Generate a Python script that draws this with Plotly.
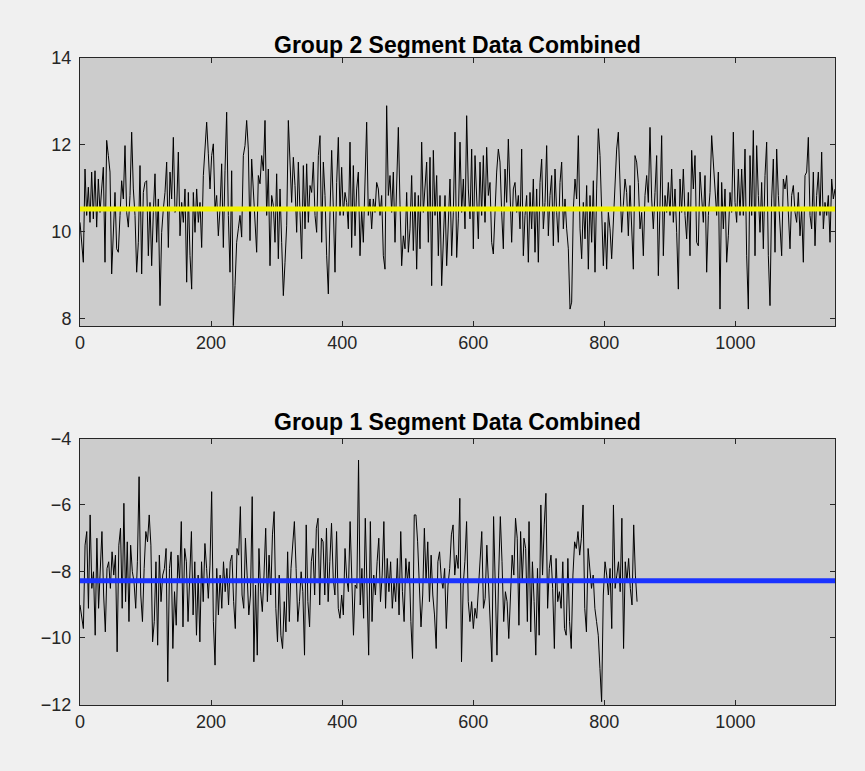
import numpy as np
import plotly.graph_objects as go

# Combined segment samples, group 2 (upper panel) and group 1 (lower panel)
group2_values = [
    10.21, 9.75, 9.29, 11.44, 10.37, 11.02, 10.21, 11.37, 10.29, 11.4, 10.1, 11.21, 10.44, 10.98, 11.48, 9.29,
    12.1, 11.75, 11.37, 9.02, 9.9, 10.9, 9.6, 9.52, 10.37, 11.17, 10.75, 11.98, 10.44, 10.1, 10.83, 12.29,
    10.98, 10.37, 9.06, 9.75, 11.52, 9.02, 10.9, 11.13, 11.17, 9.44, 10.67, 9.21, 10.44, 11.33, 9.75, 10.75,
    8.29, 9.98, 10.52, 10.9, 11.6, 9.63, 11.37, 10.75, 12.17, 10.44, 10.52, 11.83, 9.9, 10.67, 10.21, 10.98,
    8.83, 10.9, 9.44,
    8.67, 10.9, 9.98, 10.98, 10.21, 10.67, 9.63, 11.29, 12.06, 12.52, 11.79, 10.98, 11.75, 12.02, 10.52, 10.83,
    9.9, 10.52, 11.56, 9.63, 11.4, 12.75, 10.37, 9.06, 11.4, 7.83, 8.75, 9.75, 10.06, 10.37, 9.87, 11.75,
    11.98, 12.56, 11.9, 9.79, 11.67, 10.98, 10.06, 9.52, 11.29, 11.1, 11.75, 11.4, 12.56, 10.37, 11.44, 9.21,
    10.83, 10.6, 9.75, 11.33, 9.37, 10.98, 9.75, 8.52, 9.29, 10.13, 12.56, 11.75, 10.67, 11.71, 11.06, 9.98,
    11.6, 10.44,
    9.37, 11.52, 10.06, 11.56, 10.21, 11.06, 10.9, 11.6, 10.37, 9.98, 11.75, 12.21, 9.75, 11.6, 10.83, 9.44,
    8.56, 10.44, 11.87, 10.52, 9.06, 11.13, 12.17, 10.37, 11.48, 10.37, 10.9, 10.67, 10.06, 12.06, 9.63, 11.52,
    9.9, 10.98, 11.37, 9.44, 10.52, 9.75, 11.06, 12.52, 10.37, 10.75, 10.06, 10.75, 10.44, 11.13, 10.98, 10.37,
    10.83, 9.44, 9.13, 12.9, 10.83, 11.29, 10.44, 11.37, 9.75, 11.06, 12.4, 10.63, 9.21, 9.9, 9.6, 10.9,
    9.52, 10.06,
    11.29, 9.56, 10.9, 9.13, 10.83, 9.6, 12.06, 10.44, 11.13, 11.6, 9.75, 11.71, 8.75, 11.87, 10.37, 11.29,
    9.44, 10.83, 8.75, 10.06, 10.83, 9.21, 10.13, 11.21, 9.44, 10.44, 12.29, 9.4, 10.29, 12.06, 10.44, 11.21,
    10.06, 12.67, 10.98, 10.29, 11.9, 9.6, 11.75, 10.6, 9.83, 11.6, 10.37, 11.75, 10.21, 11.94, 10.83, 11.13,
    9.75, 9.48, 10.6, 11.37, 11.9, 11.6, 10.44, 9.6, 11.44, 10.67, 12.13, 10.75, 9.75, 10.98, 11.13, 10.44,
    10.83, 10.06,
    11.9, 9.44, 10.37, 10.83, 9.29, 10.9, 10.06, 11.21, 9.52, 10.98, 9.29, 11.13, 11.67, 10.06, 10.67, 11.98,
    9.9, 10.83, 11.29, 9.67, 11.44, 10.44, 9.75, 11.13, 11.6, 10.06, 10.75, 10.06, 9.6, 8.21, 8.37, 10.52,
    11.21, 10.75, 12.21, 10.06, 9.37, 10.67, 9.83, 11.06, 9.13, 10.83, 9.75, 11.17, 9.06, 10.98, 12.37, 11.75,
    10.37, 9.21, 10.21, 9.13, 10.44, 10.06, 9.37, 10.21, 10.83, 11.9, 12.29, 10.98, 9.98, 10.6, 11.21, 10.9,
    9.9, 11.06,
    9.83, 9.13, 11.75, 11.6, 11.13, 10.06, 10.44, 9.44, 10.83, 11.29, 10.67, 12.4, 10.75, 10.06, 10.9, 11.75,
    8.98, 10.52, 12.21, 9.44, 10.83, 10.44, 11.13, 10.37, 11.44, 10.21, 10.98, 9.98, 8.67, 11.21, 10.44, 11.44,
    10.37, 9.83, 10.9, 9.44, 11.87, 10.98, 11.75, 9.75, 9.67, 11.37, 10.67, 10.21, 11.29, 9.06, 10.37, 10.9,
    12.21, 11.6, 10.75, 10.37, 11.37, 8.21, 11.13, 10.06, 10.98, 9.29, 9.9, 10.9, 10.44, 12.29, 10.67, 10.21,
    11.44, 10.37,
    11.44, 10.37, 11.9, 9.44, 8.21, 11.75, 10.37, 12.33, 9.44, 11.98, 10.83, 9.98, 11.13, 9.6, 11.29, 12.06,
    9.44, 8.29, 10.75, 11.67, 9.52, 11.9, 10.83, 10.06, 9.44, 11.21, 10.98, 11.29, 10.37, 9.6, 10.83, 11.06,
    10.44, 10.21, 10.9, 9.9, 10.52, 9.29, 11.29, 11.37, 12.17, 10.37, 10.06, 11.37, 9.67, 10.83, 11.37, 10.37,
    11.83, 10.06, 10.67, 10.37, 10.83, 9.75, 11.21, 10.75, 10.98,
]

group1_values = [
    -9.01, -9.41, -9.72, -7.21, -6.8, -9.11, -6.3, -8.51, -8.01, -9.92, -7.0, -9.11, -7.71, -6.8, -8.71, -9.82,
    -7.91, -7.71, -8.51, -7.41, -8.11, -7.51, -10.42, -7.21, -6.7, -9.11, -5.95, -8.91, -7.11, -9.51, -7.21, -8.01,
    -8.31, -9.11, -7.71, -5.15, -8.71, -9.51, -7.91, -6.8, -7.11, -6.3, -7.21, -10.12, -9.51, -7.71, -10.22, -7.51,
    -8.91, -8.11, -7.91, -7.31, -11.32, -7.91, -7.41, -10.32, -8.61, -9.62, -7.51, -8.31, -6.5, -9.67, -7.31, -7.71,
    -9.51, -8.01, -6.8,
    -9.31, -7.71, -9.92, -8.11, -10.12, -7.71, -8.91, -7.16, -7.91, -8.81, -7.81, -5.6, -9.51, -10.82, -7.91, -9.31,
    -8.11, -9.11, -7.71, -8.61, -7.91, -9.01, -7.71, -7.51, -8.91, -9.72, -7.31, -7.51, -6.05, -8.71, -9.11, -7.0,
    -8.11, -9.31, -8.71, -5.75, -10.72, -8.41, -10.52, -7.31, -8.61, -9.21, -8.11, -6.7, -8.91, -7.51, -8.71, -6.9,
    -6.2, -9.11, -10.12, -8.11, -9.92, -10.32, -8.91, -9.82, -7.41, -9.51, -7.91, -7.31, -6.5, -7.91, -9.51, -8.91,
    -8.01, -8.61,
    -10.52, -6.6, -8.91, -9.67, -7.71, -7.31, -8.71, -6.7, -6.4, -9.01, -7.0, -7.11, -8.71, -6.7, -8.91, -7.71,
    -6.55, -8.21, -8.71, -6.8, -9.11, -9.41, -8.71, -9.31, -7.31, -8.21, -8.61, -6.5, -8.01, -9.92, -8.41, -8.51,
    -4.65, -9.01, -7.91, -9.41, -6.4, -8.71, -10.52, -6.5, -9.51, -8.11, -8.71, -7.71, -7.0, -8.91, -8.11, -6.5,
    -9.11, -7.61, -8.61, -7.71, -9.11, -8.31, -8.91, -7.61, -9.31, -6.8, -8.61, -9.51, -7.61, -8.31, -7.71, -9.51,
    -10.62, -6.3,
    -6.3, -7.11, -8.71, -9.67, -8.71, -6.7, -8.31, -7.11, -8.91, -7.51, -8.71, -9.31, -10.32, -7.71, -7.41, -8.21,
    -8.51, -7.91, -9.72, -8.41, -7.91, -6.9, -6.6, -8.11, -7.51, -7.91, -5.8, -10.72, -8.41, -7.71, -6.5, -8.91,
    -9.51, -8.91, -9.72, -9.11, -9.41, -8.61, -7.51, -6.8, -9.11, -8.81, -7.21, -8.31, -9.31, -10.72, -6.35, -8.71,
    -10.52, -8.11, -6.35, -7.71, -9.51, -8.61, -8.91, -10.02, -8.61, -7.51, -8.11, -6.4, -7.0, -9.62, -6.8, -8.31,
    -7.0, -7.31,
    -9.51, -6.5, -9.82, -7.71, -8.91, -10.52, -7.91, -9.92, -6.0, -8.11, -6.6, -5.65, -9.11, -7.91, -7.51, -8.51,
    -10.32, -7.61, -8.91, -8.61, -9.11, -7.71, -9.72, -9.92, -7.61, -9.51, -10.32, -8.11, -7.11, -7.31, -6.8, -7.51,
    -7.0, -6.0, -9.11, -9.82, -7.31, -7.91, -8.51, -8.11, -9.11, -9.51, -9.92, -10.92, -11.92, -8.71, -7.71, -8.11,
    -8.71, -7.91, -9.72, -6.0, -8.51, -8.11, -7.71, -8.61, -6.4, -10.32, -7.71, -8.31, -7.61, -8.51, -9.01, -6.6,
    -8.11, -8.91,
]

# Sample index span of each group and its mean level
group2_last_index = 1152
group1_last_index = 850
group2_mean = 10.52
group1_mean = -8.28

x_limit = [0, 1152]
group2_ylim = [7.82, 14]
group1_ylim = [-12.02, -4]

x_ticks = [0, 200, 400, 600, 800, 1000]
group2_yticks = [8, 10, 12, 14]
group1_yticks = [-12, -10, -8, -6, -4]

x2 = np.linspace(0, group2_last_index, len(group2_values))
x1 = np.linspace(0, group1_last_index, len(group1_values))

W, H = 865, 771
FONT = "Liberation Sans, Arial, Helvetica, sans-serif"
INK = "#262626"

fig = go.Figure()

fig.add_trace(go.Scatter(x=x2, y=group2_values, mode="lines",
                         line=dict(color="black", width=1),
                         xaxis="x", yaxis="y", showlegend=False))
fig.add_trace(go.Scatter(x=x_limit, y=[group2_mean, group2_mean], mode="lines",
                         line=dict(color="#f2f200", width=5),
                         xaxis="x", yaxis="y", showlegend=False))

fig.add_trace(go.Scatter(x=x1, y=group1_values, mode="lines",
                         line=dict(color="black", width=1),
                         xaxis="x2", yaxis="y2", showlegend=False))
fig.add_trace(go.Scatter(x=x_limit, y=[group1_mean, group1_mean], mode="lines",
                         line=dict(color="#1a33ff", width=5),
                         xaxis="x2", yaxis="y2", showlegend=False))

x_dom = [80 / W, 835 / W]
top_dom = [1 - 326 / H, 1 - 58 / H]
bot_dom = [1 - 705 / H, 1 - 438.5 / H]

axis_common = dict(showgrid=False, zeroline=False, showline=True, linecolor=INK,
                   linewidth=1, mirror="allticks", ticks="inside", ticklen=5,
                   tickcolor=INK, tickwidth=1, automargin=False,
                   tickfont=dict(family=FONT, size=18, color=INK))


def labels(vals):
    return [str(v).replace("-", "\u2212") for v in vals]


fig.update_layout(
    width=W, height=H,
    margin=dict(l=0, r=0, t=0, b=0, autoexpand=False),
    paper_bgcolor="#f0f0f0",
    plot_bgcolor="#cccccc",
    xaxis=dict(domain=x_dom, range=x_limit, anchor="y", tickvals=x_ticks,
               ticktext=labels(x_ticks), **axis_common),
    yaxis=dict(domain=top_dom, range=group2_ylim, anchor="x", tickvals=group2_yticks,
               ticktext=labels(group2_yticks), ticklabelstandoff=4, **axis_common),
    xaxis2=dict(domain=x_dom, range=x_limit, anchor="y2", tickvals=x_ticks,
                ticktext=labels(x_ticks), **axis_common),
    yaxis2=dict(domain=bot_dom, range=group1_ylim, anchor="x2", tickvals=group1_yticks,
                ticktext=labels(group1_yticks), ticklabelstandoff=4, **axis_common),
    annotations=[
        dict(text="<b>Group 2 Segment Data Combined</b>", x=(x_dom[0] + x_dom[1]) / 2,
             y=1 - 45 / H, xref="paper", yref="paper", showarrow=False,
             font=dict(family=FONT, size=23, color="black"), xanchor="center", yanchor="middle"),
        dict(text="<b>Group 1 Segment Data Combined</b>", x=(x_dom[0] + x_dom[1]) / 2,
             y=1 - 422 / H, xref="paper", yref="paper", showarrow=False,
             font=dict(family=FONT, size=23, color="black"), xanchor="center", yanchor="middle"),
    ],
)

fig.write_html("out.html")
